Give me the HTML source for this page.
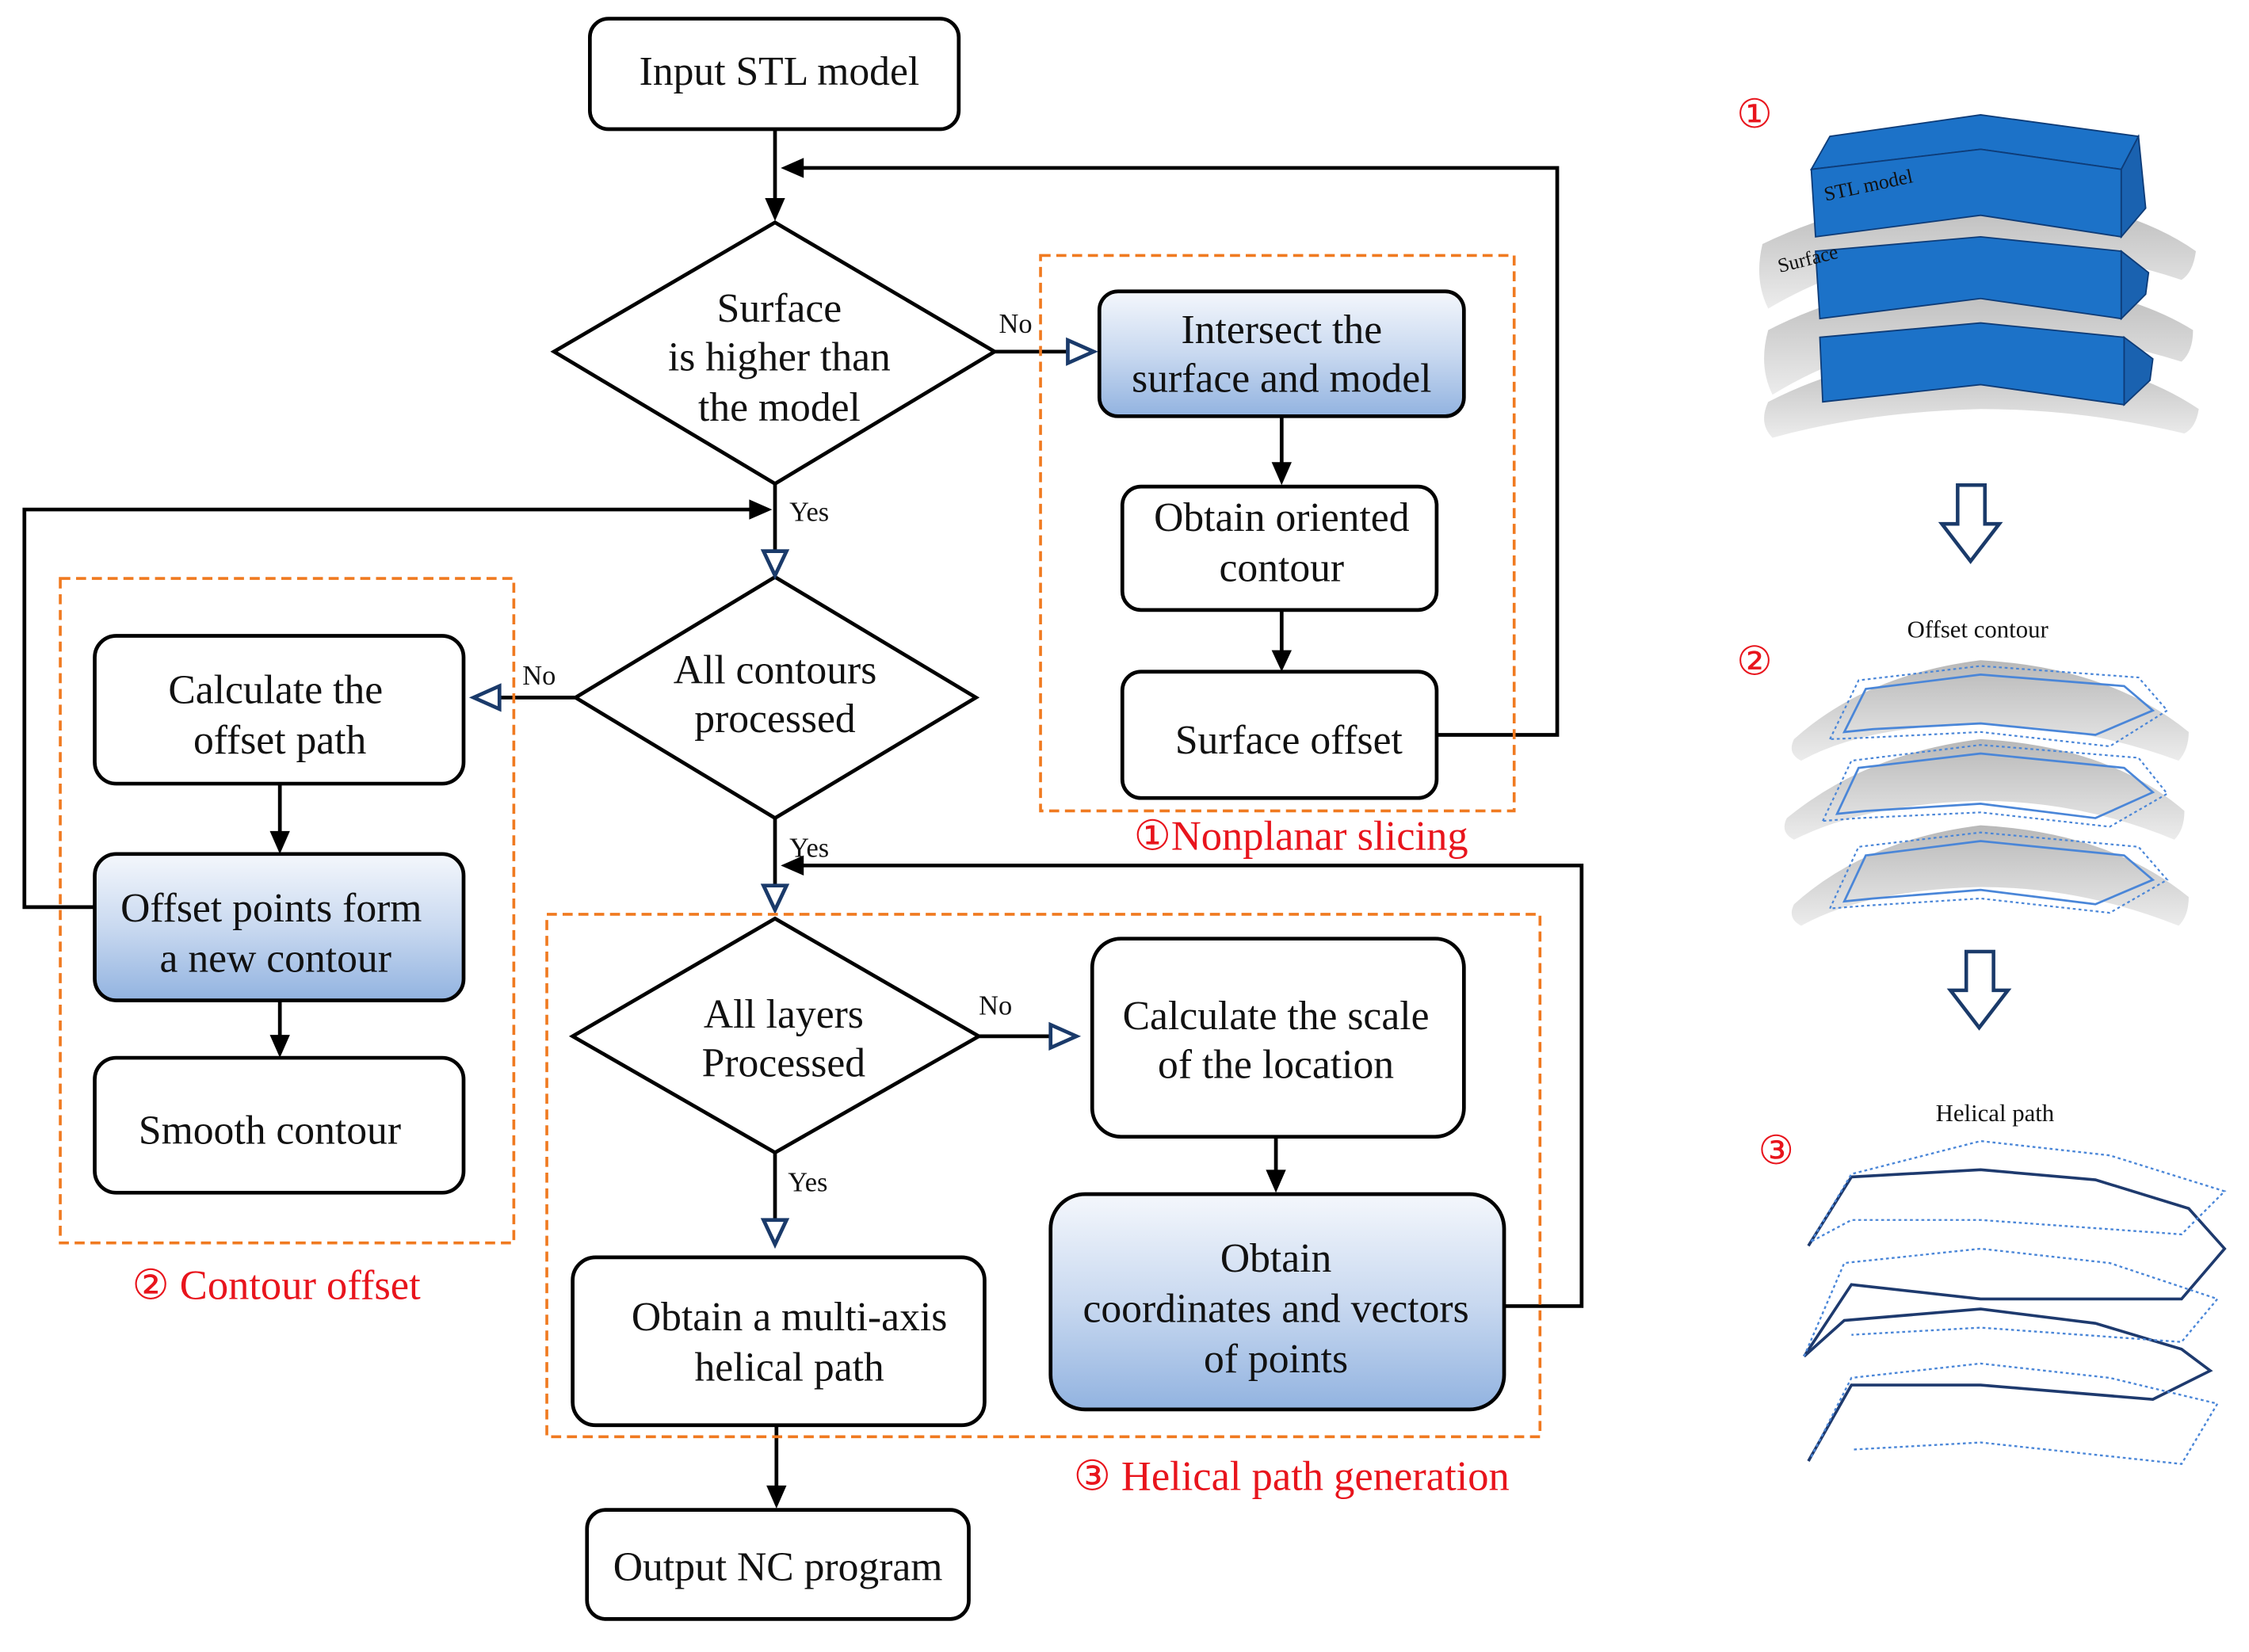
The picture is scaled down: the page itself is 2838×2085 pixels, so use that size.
<!DOCTYPE html>
<html><head><meta charset="utf-8"><style>
html,body{margin:0;padding:0;background:#fff;}
svg{display:block;}
text{font-family:"Liberation Serif",serif;fill:#111;}
</style></head><body>
<svg width="2838" height="2085" viewBox="0 0 1567 1151" preserveAspectRatio="none" xmlns="http://www.w3.org/2000/svg">
<defs>
<linearGradient id="g" x1="0" y1="0" x2="0" y2="1">
<stop offset="0" stop-color="#f4f7fc"/><stop offset="0.5" stop-color="#c9d9f0"/><stop offset="1" stop-color="#92b3e0"/>
</linearGradient>
<linearGradient id="gr" x1="0" y1="0" x2="0" y2="1">
<stop offset="0" stop-color="#b8b8b8"/><stop offset="1" stop-color="#ececec"/>
</linearGradient>
</defs>
<g stroke="#000" stroke-width="2.6" fill="none">
<rect x="411" y="13" width="257" height="77" rx="13" fill="#fff"/>
<rect x="766" y="203" width="254" height="87" rx="13" fill="url(#g)"/>
<rect x="782" y="339" width="219" height="86" rx="13" fill="#fff"/>
<rect x="782" y="468" width="219" height="88" rx="13" fill="#fff"/>
<rect x="66" y="443" width="257" height="103" rx="15" fill="#fff"/>
<rect x="66" y="595" width="257" height="102" rx="15" fill="url(#g)"/>
<rect x="66" y="737" width="257" height="94" rx="15" fill="#fff"/>
<rect x="761" y="654" width="259" height="138" rx="20" fill="#fff"/>
<rect x="732" y="832" width="316" height="150" rx="24" fill="url(#g)"/>
<rect x="399" y="876" width="287" height="117" rx="16" fill="#fff"/>
<rect x="409" y="1052" width="266" height="76" rx="13" fill="#fff"/>
<polygon points="540,155 693,245 540,337 386,245" fill="#fff"/>
<polygon points="540,402 680,486 540,570 401,486" fill="#fff"/>
<polygon points="540,640 682,722 540,803 399,722" fill="#fff"/>
<line x1="540" y1="90" x2="540" y2="140"/>
<polyline points="1001,512 1085,512 1085,117 558,117"/>
<line x1="693" y1="245" x2="744" y2="245"/>
<line x1="893" y1="290" x2="893" y2="324"/>
<line x1="893" y1="425" x2="893" y2="455"/>
<line x1="540" y1="337" x2="540" y2="384"/>
<polyline points="66,632 17,632 17,355 524,355"/>
<line x1="401" y1="486" x2="348" y2="486"/>
<line x1="195" y1="546" x2="195" y2="581"/>
<line x1="195" y1="697" x2="195" y2="723"/>
<line x1="540" y1="570" x2="540" y2="617"/>
<polyline points="1048,910 1102,910 1102,603 558,603"/>
<line x1="682" y1="722" x2="732" y2="722"/>
<line x1="889" y1="792" x2="889" y2="817"/>
<line x1="540" y1="803" x2="540" y2="850"/>
<line x1="541" y1="993" x2="541" y2="1037"/>
</g>
<g fill="#000">
<polygon points="533,138 547,138 540,154"/>
<polygon points="560,110 560,124 544,117"/>
<polygon points="886,322 900,322 893,338"/>
<polygon points="886,453 900,453 893,468"/>
<polygon points="522,348 522,362 538,355"/>
<polygon points="188,579 202,579 195,595"/>
<polygon points="188,721 202,721 195,737"/>
<polygon points="560,596 560,610 544,603"/>
<polygon points="882,815 896,815 889,831"/>
<polygon points="534,1035 548,1035 541,1051"/>
</g>
<g fill="#fff" stroke="#1a3a6a" stroke-width="2.6">
<polygon points="744,237 744,253 762,245"/>
<polygon points="532,384 548,384 540,401"/>
<polygon points="348,478 348,494 330,486"/>
<polygon points="532,617 548,617 540,634"/>
<polygon points="732,714 732,730 750,722"/>
<polygon points="532,850 548,850 540,867"/>
</g>
<g fill="none" stroke="#f07a20" stroke-width="2" stroke-dasharray="7,4">
<rect x="725" y="178" width="330" height="387"/>
<rect x="42" y="403" width="316" height="463"/>
<rect x="381" y="637" width="692" height="364"/>
</g>
<g font-size="28.5" text-anchor="middle">
<text x="543" y="59">Input STL model</text>
<text x="543" y="224">Surface</text>
<text x="543" y="258">is higher than</text>
<text x="543" y="293">the model</text>
<text x="893" y="239">Intersect the</text>
<text x="893" y="273">surface and model</text>
<text x="893" y="370">Obtain oriented</text>
<text x="893" y="405">contour</text>
<text x="898" y="525">Surface offset</text>
<text x="540" y="476">All contours</text>
<text x="540" y="510">processed</text>
<text x="192" y="490">Calculate the</text>
<text x="195" y="525">offset path</text>
<text x="189" y="642">Offset points form</text>
<text x="192" y="677">a new contour</text>
<text x="188" y="797">Smooth contour</text>
<text x="546" y="716">All layers</text>
<text x="546" y="750">Processed</text>
<text x="889" y="717">Calculate the scale</text>
<text x="889" y="751">of the location</text>
<text x="889" y="886">Obtain</text>
<text x="889" y="921">coordinates and vectors</text>
<text x="889" y="956">of points</text>
<text x="550" y="927">Obtain a multi-axis</text>
<text x="550" y="962">helical path</text>
<text x="542" y="1101">Output NC program</text>
</g>
<g font-size="19">
<text x="696" y="232">No</text>
<text x="550" y="363">Yes</text>
<text x="364" y="477">No</text>
<text x="550" y="597">Yes</text>
<text x="682" y="707">No</text>
<text x="549" y="830">Yes</text>
</g>
<g font-size="29">
<text x="790" y="592" style="fill:#e8141c">①Nonplanar slicing</text>
<text x="92" y="905" style="fill:#e8141c">② Contour offset</text>
<text x="748" y="1038" style="fill:#e8141c">③ Helical path generation</text>
</g>
<g font-size="28">
<text x="1210" y="89" style="fill:#e8141c">①</text>
<text x="1210" y="470" style="fill:#e8141c">②</text>
<text x="1225" y="811" style="fill:#e8141c">③</text>
</g>
<g fill="url(#gr)">
<path d="M1228,170 Q1300,135 1390,135 Q1480,140 1530,175 Q1528,190 1520,195 Q1450,172 1380,172 Q1300,175 1232,215 Q1222,195 1228,170 Z"/>
<path d="M1232,230 Q1300,195 1390,193 Q1480,200 1528,230 Q1528,245 1520,252 Q1450,230 1380,232 Q1300,235 1235,275 Q1225,255 1232,230 Z"/>
<path d="M1232,280 Q1300,245 1390,243 Q1480,250 1532,285 Q1530,298 1522,302 Q1450,285 1380,285 Q1300,287 1235,305 Q1225,295 1232,280 Z"/>
</g>
<g fill="#1c72c8" stroke="#0e3c78" stroke-width="1">
<polygon points="1262,118 1275,95 1380,80 1490,95 1478,118 1380,104"/>
<polygon points="1262,118 1380,104 1478,118 1478,165 1380,150 1265,165"/>
<polygon points="1478,118 1490,95 1495,145 1478,165" fill="#1a62b0"/>
<polygon points="1265,175 1380,165 1478,175 1478,222 1380,208 1268,222"/>
<polygon points="1478,175 1497,190 1495,205 1478,222" fill="#1a62b0"/>
<polygon points="1268,235 1380,225 1480,235 1480,282 1380,268 1270,280"/>
<polygon points="1480,235 1500,250 1498,265 1480,282" fill="#1a62b0"/>
</g>
<text x="1272" y="140" font-size="14" transform="rotate(-12 1272 140)">STL model</text>
<text x="1240" y="190" font-size="14" transform="rotate(-14 1240 190)">Surface</text>
<g fill="#fff" stroke="#1a3a6a" stroke-width="2.5">
<polygon points="1364,338 1383,338 1383,365 1393,365 1373,391 1353,365 1364,365"/>
<polygon points="1370,663 1389,663 1389,690 1399,690 1379,716 1359,690 1370,690"/>
</g>
<text x="1378" y="444" font-size="17" text-anchor="middle">Offset contour</text>
<g fill="url(#gr)">
<path d="M1250,515 Q1300,470 1380,460 Q1470,465 1525,510 Q1525,522 1518,530 Q1450,505 1380,505 Q1300,505 1255,530 Q1245,525 1250,515 Z"/>
<path d="M1245,570 Q1300,525 1380,515 Q1470,520 1522,565 Q1522,578 1515,585 Q1450,558 1380,558 Q1300,560 1250,585 Q1240,580 1245,570 Z"/>
<path d="M1250,630 Q1300,585 1380,575 Q1470,580 1525,625 Q1525,638 1518,645 Q1450,618 1380,618 Q1300,620 1255,645 Q1245,640 1250,630 Z"/>
</g>
<g fill="none" stroke="#4a86d8" stroke-width="1.5">
<polygon points="1285,510 1300,480 1380,470 1480,478 1500,495 1460,512 1380,504 1305,508"/>
<polygon points="1280,567 1295,535 1380,525 1480,535 1500,552 1460,570 1380,560 1300,565"/>
<polygon points="1285,628 1300,596 1380,586 1480,596 1500,613 1460,630 1380,620 1305,626"/>
</g>
<g fill="none" stroke="#4a86d8" stroke-width="1.2" stroke-dasharray="2,2">
<polygon points="1275,515 1295,474 1380,464 1490,472 1510,495 1470,520 1380,510 1300,514"/>
<polygon points="1270,572 1290,530 1380,519 1490,528 1510,553 1470,576 1380,566 1295,570"/>
<polygon points="1275,633 1295,590 1380,580 1490,590 1510,613 1470,636 1380,626 1300,631"/>
</g>
<text x="1390" y="781" font-size="17" text-anchor="middle">Helical path</text>
<g fill="none" stroke="#1e3a6e" stroke-width="2">
<polyline points="1260,868 1290,820 1380,815 1460,822 1525,842 1550,870 1520,905 1380,905 1290,895 1257,945"/>
<polyline points="1257,945 1285,920 1380,912 1460,922 1520,940 1540,955 1500,975 1380,965 1290,965 1260,1018"/>
</g>
<g fill="none" stroke="#4a86d8" stroke-width="1.3" stroke-dasharray="2,2">
<polyline points="1262,865 1290,818 1380,795 1470,805 1550,830 1520,860 1380,850 1290,850 1262,865"/>
<polyline points="1257,945 1285,880 1380,870 1470,880 1545,905 1520,935 1380,925 1290,930"/>
<polyline points="1262,1015 1290,960 1380,950 1470,960 1545,978 1520,1020 1380,1005 1290,1010"/>
</g>
</svg>
</body></html>
